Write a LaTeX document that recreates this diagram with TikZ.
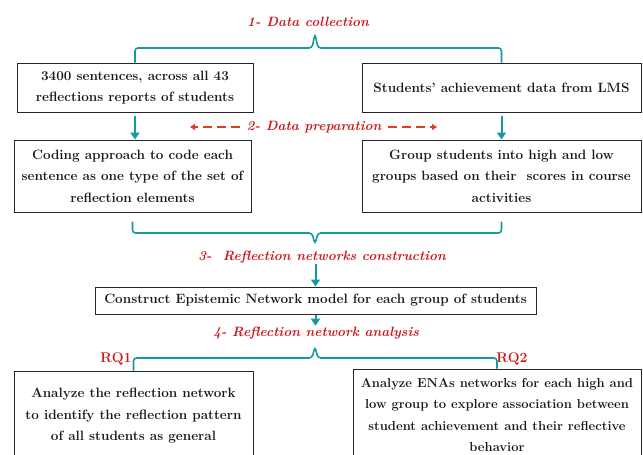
\documentclass[tikz,border=0pt]{standalone}
\usepackage{tikz}
\usetikzlibrary{positioning,arrows.meta}

\definecolor{flowteal}{RGB}{20,155,160}
\definecolor{stepred}{RGB}{205,25,30}
\definecolor{dashred}{RGB}{225,60,35}

\begin{document}
\begin{tikzpicture}[
  x=1pt,y=-1pt,
  mybox/.style={draw=black!85,line width=1pt,align=center,text=black!90,inner sep=2pt,
    font=\bfseries\fontsize{13.5}{21.5}\selectfont},
  steplabel/.style={text=stepred,inner sep=1pt,font=\bfseries\itshape\fontsize{13.5}{15}\selectfont},
  rqlabel/.style={text=stepred,inner sep=1pt,font=\bfseries\fontsize{14}{16}\selectfont},
  brace/.style={draw=flowteal,line width=1.6pt,rounded corners=3pt},
  arr/.style={draw=flowteal,line width=2pt,-{Triangle[length=7pt,width=9pt]}},
  dasharr/.style={draw=dashred,line width=1.6pt,dash pattern=on 9pt off 5pt,-{Triangle[length=5pt,width=6pt]}},
]
\fill[white] (0,0) rectangle (643,455);
\clip (0,0) rectangle (643,455);

\node[steplabel] (collect) at (308,22) {1- Data collection};
\node[mybox,minimum width=236,minimum height=49] (sentences) at (135,87.5)
  {3400 sentences, across all 43\\reflections reports of students};
\node[mybox,minimum width=279,minimum height=49] (lms) at (501.5,87.5)
  {Students' achievement data from LMS};

\node[steplabel,inner xsep=6pt] (prep) at (314,127) {2- Data preparation};
\coordinate (prepleft) at (190,127);
\coordinate (prepright) at (437,127);

\node[mybox,minimum width=237,minimum height=72] (coding) at (132.5,176)
  {Coding approach to code each\\sentence as one type of the set of\\reflection elements};
\node[mybox,minimum width=279,minimum height=72] (grouping) at (501.5,176)
  {Group students into high and low\\groups based on their\ \ scores in course\\activities};

\node[steplabel] (construct) at (322,257) {3-\ \ Reflection networks construction};
\node[mybox,minimum width=441,minimum height=27] (ena) at (315.5,300.5)
  {Construct Epistemic Network model for each group of students};
\node[steplabel] (analysis) at (316,333) {4- Reflection network analysis};

\node[rqlabel] (rqonelabel) at (116,359) {RQ1};
\node[rqlabel] (rqtwolabel) at (512,359) {RQ2};
\node[mybox,minimum width=239,minimum height=90] (rqone) at (133.5,416)
  {Analyze the reflection network\\to identify the reflection pattern\\of all students as general};
\node[mybox,minimum width=288,minimum height=92,font=\bfseries\fontsize{13}{21.5}\selectfont] (rqtwo) at (497,415)
  {Analyze ENAs networks for each high and\\low group to explore association between\\student achievement and their reflective\\behavior};

\draw[brace] (sentences.north) |- (312,48) -- (315,34) -- (318,48) -| (lms.north);
\draw[brace] ([yshift=-9pt]coding.south) |- (312,233) -- (315,244) -- (318,233) -| ([yshift=-9pt]grouping.south);
\draw[brace] (rqone.north) |- (312,358) -- (315,347) -- (318,358) -| (rqtwo.north);

\path ([yshift=-3pt]sentences.south) edge[arr] (sentences.south |- coding.north)
  ([yshift=-3pt]lms.south) edge[arr] (lms.south |- grouping.north)
  (ena.north |- construct.south) edge[arr] (ena.north)
  (ena.south) edge[arr] (ena.south |- analysis.north)
  (prep.west) edge[dasharr] (prepleft)
  (prep.east) edge[dasharr] (prepright)
;
\end{tikzpicture}
\end{document}
